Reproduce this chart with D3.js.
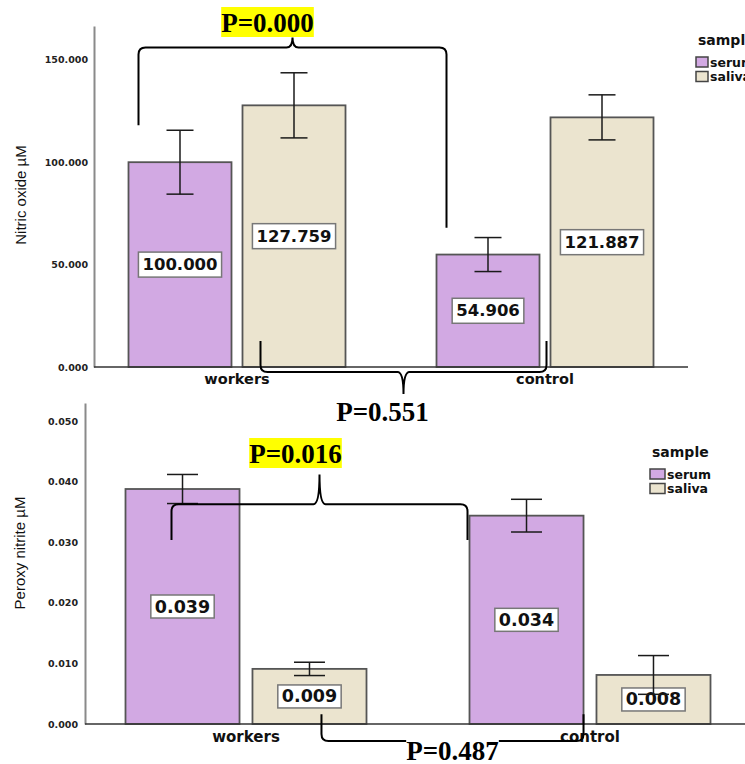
<!DOCTYPE html>
<html>
<head>
<meta charset="utf-8">
<script src="https://cdn.jsdelivr.net/npm/d3@7"></script>
<style>
body { margin: 0; background: #fff; }
svg { display: block; }
</style>
</head>
<body>
<svg id="chart" width="745" height="764"></svg>
<script>
// categories and series
const groups = ["workers", "control"];
const series = ["serum", "saliva"];

// Nitric oxide panel (means and error half-widths, workers / control)
const nitricSerum = [100.000, 54.906];
const nitricSaliva = [127.759, 121.887];
const nitricSerumErr = [15.6, 8.3];
const nitricSalivaErr = [15.9, 11.0];
const nitricTicks = [0, 50, 100, 150];

// Peroxy nitrite panel
const peroxySerum = [0.0388, 0.0344];
const peroxySaliva = [0.0091, 0.0081];
const peroxySerumErr = [0.0024, 0.0027];
const peroxySalivaErr = [0.0011, 0.0032];
const peroxyTicks = [0, 0.01, 0.02, 0.03, 0.04, 0.05];

const colors = { serum: "#d2a9e3", saliva: "#ebe4cf" };
const SPSS_FONT = "'DejaVu Sans', Verdana, sans-serif";
const P_FONT = "'Liberation Serif', 'Times New Roman', serif";

const svg = d3.select("#chart");

function rows(serum, saliva, serumErr, salivaErr) {
    return groups.map((g, i) => ({
        group: g,
        values: [
            { key: "serum", value: serum[i], err: serumErr[i] },
            { key: "saliva", value: saliva[i], err: salivaErr[i] },
        ],
    }));
}

function drawPanel(cfg) {
    const g = svg.append("g");
    const y = d3.scaleLinear().domain(cfg.yDomain).range(cfg.yRange);
    const x0 = d3.scaleBand().domain(groups).range(cfg.xRange).padding(0);
    const x1 = d3.scaleBand().domain(series).range([0, cfg.groupWidth]).paddingInner(cfg.innerPad);
    const shift = (x0.bandwidth() - cfg.groupWidth) / 2;
    const barX = (grp, key) => x0(grp) + shift + x1(key);

    // y axis
    const yAxis = g.append("g")
        .attr("transform", `translate(${cfg.axisX},0)`)
        .call(d3.axisLeft(y).tickValues(cfg.ticks).tickFormat(d3.format(".3f"))
            .tickSize(0).tickSizeOuter(0).tickPadding(cfg.tickPadding));
    yAxis.select(".domain").attr("stroke", "#8a8a8a").attr("stroke-width", 2);
    yAxis.selectAll("text")
        .attr("font-family", SPSS_FONT)
        .attr("font-weight", "bold")
        .attr("font-size", 9.5)
        .attr("fill", "#222");

    // bars
    const data = rows(...cfg.data);
    const grp = g.selectAll("g.grp")
        .data(data)
        .join("g")
        .attr("class", "grp");

    grp.selectAll("rect.bar")
        .data(d => d.values.map(v => ({ ...v, group: d.group })))
        .join("rect")
        .attr("class", "bar")
        .attr("x", d => barX(d.group, d.key))
        .attr("y", d => y(d.value))
        .attr("width", x1.bandwidth())
        .attr("height", d => y(0) - y(d.value))
        .attr("fill", d => colors[d.key])
        .attr("stroke", "#555")
        .attr("stroke-width", 1.8);

    // x axis line + category labels
    g.append("line")
        .attr("x1", cfg.axisX).attr("x2", cfg.axisRight)
        .attr("y1", y(0)).attr("y2", y(0))
        .attr("stroke", "#333").attr("stroke-width", 1.5);

    const xAxis = g.append("g")
        .attr("transform", `translate(0,${y(0)})`)
        .call(d3.axisBottom(x0).tickSize(0).tickPadding(cfg.catPad));
    xAxis.select(".domain").remove();
    xAxis.selectAll("text")
        .attr("font-family", SPSS_FONT)
        .attr("font-weight", "bold")
        .attr("font-size", cfg.catSize)
        .attr("fill", "#111");

    const cx = d => barX(d.group, d.key) + x1.bandwidth() / 2;

    // value labels in white boxes
    const lab = grp.selectAll("g.lab")
        .data(d => d.values.map(v => ({ ...v, group: d.group })))
        .join("g")
        .attr("class", "lab")
        .attr("transform", d => `translate(${cx(d)},${y(d.value / 2)})`);
    lab.append("rect")
        .attr("fill", "#fff")
        .attr("stroke", "#777")
        .attr("stroke-width", 1.5);
    lab.append("text")
        .attr("text-anchor", "middle")
        .attr("dominant-baseline", "central")
        .attr("font-family", SPSS_FONT)
        .attr("font-weight", "bold")
        .attr("font-size", cfg.labelSize)
        .attr("fill", "#111")
        .text(d => d.value.toFixed(3))
        .each(function () {
            const w = this.getComputedTextLength();
            d3.select(this.parentNode).select("rect")
                .attr("x", -w / 2 - 4).attr("width", w + 8)
                .attr("y", -cfg.boxH / 2).attr("height", cfg.boxH);
        });

    // error bars (drawn over the labels)
    const eb = grp.selectAll("g.err")
        .data(d => d.values.map(v => ({ ...v, group: d.group })))
        .join("g")
        .attr("class", "err")
        .attr("stroke", "#1a1a1a")
        .attr("stroke-width", 1.5);
    eb.append("line")
        .attr("x1", cx).attr("x2", cx)
        .attr("y1", d => y(d.value + d.err)).attr("y2", d => y(d.value - d.err));
    eb.append("line")
        .attr("x1", d => cx(d) - cfg.cap / 2).attr("x2", d => cx(d) + cfg.cap / 2)
        .attr("y1", d => y(d.value + d.err)).attr("y2", d => y(d.value + d.err));
    eb.append("line")
        .attr("x1", d => cx(d) - cfg.cap / 2).attr("x2", d => cx(d) + cfg.cap / 2)
        .attr("y1", d => y(d.value - d.err)).attr("y2", d => y(d.value - d.err));

    // legend
    const lg = g.append("g").attr("transform", `translate(${cfg.legend[0]},${cfg.legend[1]})`);
    lg.append("text")
        .attr("x", 2).attr("y", 0)
        .attr("font-family", SPSS_FONT).attr("font-weight", "bold")
        .attr("font-size", 14).attr("fill", "#111")
        .text("sample");
    const item = lg.selectAll("g.item")
        .data(series)
        .join("g")
        .attr("class", "item")
        .attr("transform", (d, i) => `translate(0,${12 + i * 14.5})`);
    item.append("rect")
        .attr("width", cfg.swatchW).attr("height", 10)
        .attr("fill", d => colors[d])
        .attr("stroke", "#444").attr("stroke-width", 1.5);
    item.append("text")
        .attr("x", cfg.swatchW + 2).attr("y", 9.5)
        .attr("font-family", SPSS_FONT).attr("font-weight", "bold")
        .attr("font-size", 12.5).attr("fill", "#111")
        .text(d => d);

    return { y, barX, bw: x1.bandwidth() };
}

function bracePath(xa, yA, xb, yB, yBar, xm, yCusp) {
    const r = 7, c = 6;
    const sA = Math.sign(yA - yBar), sB = Math.sign(yB - yBar);
    const p = d3.path();
    p.moveTo(xa, yA);
    p.lineTo(xa, yBar + sA * r);
    p.quadraticCurveTo(xa, yBar, xa + r, yBar);
    p.lineTo(xm - c, yBar);
    p.quadraticCurveTo(xm, yBar, xm, yCusp);
    p.quadraticCurveTo(xm, yBar, xm + c, yBar);
    p.lineTo(xb - r, yBar);
    p.quadraticCurveTo(xb, yBar, xb, yBar + sB * r);
    p.lineTo(xb, yB);
    return p.toString();
}

function pLabel(text, cx, baseline, highlight, whiteBg) {
    const t = svg.append("text")
        .attr("x", cx).attr("y", baseline)
        .attr("text-anchor", "middle")
        .attr("font-family", P_FONT)
        .attr("font-weight", "bold")
        .attr("font-size", 27)
        .attr("fill", "#000")
        .text(text);
    const b = t.node().getBBox();
    if (highlight || whiteBg) {
        svg.insert("rect", () => t.node())
            .attr("x", b.x).attr("y", baseline - 25)
            .attr("width", b.width).attr("height", 30)
            .attr("fill", highlight ? "#ffff00" : "#fff");
    }
}

const topPanel = drawPanel({
    data: [nitricSerum, nitricSaliva, nitricSerumErr, nitricSalivaErr],
    ticks: nitricTicks,
    yDomain: [0, 166.5], yRange: [367, 26],
    xRange: [83, 699], groupWidth: 217, innerPad: 0.0965,
    axisX: 94, axisRight: 688, tickPadding: 6,
    cap: 27, labelSize: 16.5, boxH: 25,
    catSize: 14.5, catPad: 7,
    legend: [696, 45], swatchW: 12,
});

const bottomPanel = drawPanel({
    data: [peroxySerum, peroxySaliva, peroxySerumErr, peroxySalivaErr],
    ticks: peroxyTicks,
    yDomain: [0, 0.053], yRange: [724, 403],
    xRange: [74, 762], groupWidth: 241, innerPad: 0.102,
    axisX: 85, axisRight: 745, tickPadding: 7,
    cap: 31, labelSize: 17.5, boxH: 23,
    catSize: 15, catPad: 7,
    legend: [650, 457], swatchW: 15,
});

// significance braces
const braceLayer = svg.append("g")
    .attr("fill", "none").attr("stroke", "#000").attr("stroke-width", 2);

// top: workers serum vs control serum
{
    const y = topPanel.y;
    const xa = topPanel.barX("workers", "serum") + 10;
    const xb = topPanel.barX("control", "serum") + 10;
    const xm = (xa + xb) / 2;
    braceLayer.append("path").attr("d", bracePath(xa, y(118), xb, y(68), y(156), xm, y(156) - 10));
    pLabel("P=0.000", xm - 25, 32, true);
}
// top: below axis
{
    const y = topPanel.y;
    const xa = topPanel.barX("workers", "saliva") + 18;
    const xb = topPanel.barX("control", "serum") + topPanel.bw + 7;
    const xm = (xa + xb) / 2;
    braceLayer.append("path").attr("d", bracePath(xa, y(12.7), xb, y(12.7), y(0) + 5, xm, y(0) + 27));
    pLabel("P=0.551", xm - 21, 421, false);
}
// bottom: workers serum vs control serum
{
    const y = bottomPanel.y;
    const xa = bottomPanel.barX("workers", "serum") + 46;
    const xb = bottomPanel.barX("control", "serum") - 2;
    const xm = (xa + xb) / 2;
    braceLayer.append("path").attr("d", bracePath(xa, y(0.0304), xb, y(0.0304), y(0.0363), xm, y(0.0412)));
    pLabel("P=0.016", xm - 24, 463, true);
}
// bottom: below axis
{
    const y = bottomPanel.y;
    const xa = bottomPanel.barX("workers", "saliva") + 69;
    const xb = bottomPanel.barX("control", "serum") + bottomPanel.bw;
    const xm = (xa + xb) / 2;
    braceLayer.append("path").attr("d", bracePath(xa, y(0.0016), xb, y(0.0016), y(0) + 17, xm, y(0) + 30));
    pLabel("P=0.487", xm, 760, false, true);
}

// axis titles
svg.append("text")
    .attr("transform", "translate(26,195) rotate(-90)")
    .attr("text-anchor", "middle")
    .attr("font-family", "'Liberation Sans', Arial, sans-serif")
    .attr("font-size", 15).attr("fill", "#111")
    .text("Nitric oxide µM");
svg.append("text")
    .attr("transform", "translate(25,553) rotate(-90)")
    .attr("text-anchor", "middle")
    .attr("font-family", "'Liberation Sans', Arial, sans-serif")
    .attr("font-size", 15).attr("fill", "#111")
    .text("Peroxy nitrite µM");
</script>
</body>
</html>
